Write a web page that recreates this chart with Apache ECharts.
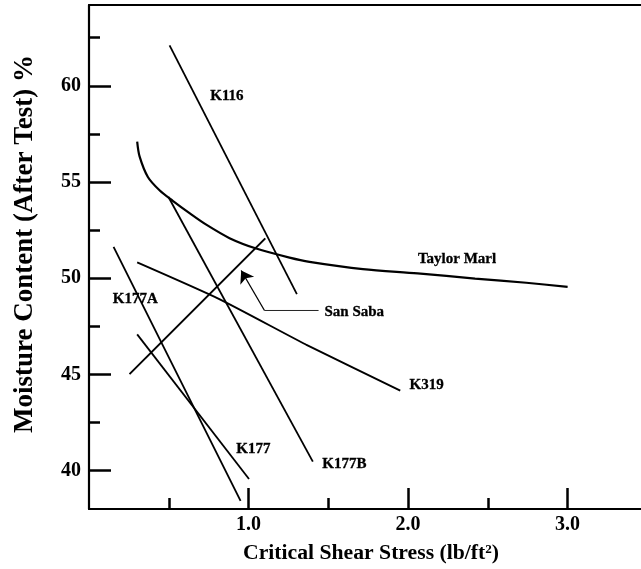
<!DOCTYPE html>
<html>
<head>
<meta charset="utf-8">
<script src="https://cdn.jsdelivr.net/npm/echarts@6/dist/echarts.min.js"></script>
<style>
  html, body { margin: 0; padding: 0; background: #fff; }
  #chart { width: 641px; height: 569px; }
</style>
</head>
<body>
<div id="chart"></div>
<script>
// Critical shear stress (lb/ft^2) vs. moisture content after test (%)
const k116X = [0.505, 1.303];
const k116Y = [62.1, 49.17];

const taylorMarlX = [0.302, 0.317, 0.369, 0.442, 0.525, 0.63, 0.735, 0.881, 1.048, 1.257, 1.382, 1.717, 2.06, 2.42, 2.741, 3.0];
const taylorMarlY = [57.1, 56.33, 55.26, 54.57, 54.02, 53.38, 52.78, 52.08, 51.54, 51.07, 50.85, 50.47, 50.25, 49.98, 49.76, 49.55];

const sanSabaX = [0.254, 1.105];
const sanSabaY = [45.01, 52.07];

const k319X = [0.302, 0.82, 1.36, 1.951];
const k319Y = [50.82, 48.9, 46.55, 44.15];

const k177bX = [0.498, 1.403];
const k177bY = [54.22, 40.46];

const k177aX = [0.154, 0.95];
const k177aY = [51.63, 38.42];

const k177X = [0.302, 1.003];
const k177Y = [47.08, 39.56];

// San Saba callout: leader line and arrow pointing at the curve
const leaderX = [1.439, 1.1];
const leaderY = [48.32, 48.32];
const arrowX = [1.1, 0.954];
const arrowY = [48.32, 50.4];

// Curve labels (left edge, vertical centre)
const labelNames = ['K116', 'Taylor Marl', 'San Saba', 'K319', 'K177A', 'K177', 'K177B'];
const labelX = [0.76, 2.062, 1.476, 2.009, 0.149, 0.923, 1.462];
const labelY = [59.44, 51.0, 48.22, 44.42, 48.92, 41.09, 40.31];

// Axis ticks
const xMajorTicks = [1, 2, 3];
const xMinorTicks = [0.5, 1.5, 2.5];
const yMajorTicks = [40, 45, 50, 55, 60];
const yMinorTicks = [42.5, 47.5, 52.5, 57.5, 62.5];

const FONT = '"Liberation Serif", "Times New Roman", serif';
const pairs = (xs, ys) => xs.map((x, i) => [x, ys[i]]);

const chart = echarts.init(document.getElementById('chart'), null, { renderer: 'canvas' });

const X_MIN = 0, X_MAX = 3.46, Y_MIN = 38, Y_MAX = 64.2;

function curve(name, xs, ys, width, smooth) {
  return {
    name, type: 'line', xAxisIndex: 0, yAxisIndex: 0,
    data: pairs(xs, ys), showSymbol: false, symbol: 'none',
    smooth: smooth || false, silent: true, animation: false,
    lineStyle: { color: '#000', width: width }
  };
}

const option = {
  animation: false,
  backgroundColor: '#fff',
  grid: { left: 89, right: 0, top: 5, bottom: 60, containLabel: false },
  xAxis: [
    {
      type: 'value', min: X_MIN, max: X_MAX, position: 'bottom',
      axisLine: { show: true, lineStyle: { color: '#000', width: 2.2 } },
      axisTick: { show: true, inside: true, length: 21, customValues: xMajorTicks, lineStyle: { color: '#000', width: 2.5 } },
      axisLabel: {
        show: true, customValues: xMajorTicks, margin: 6,
        formatter: v => v.toFixed(1),
        color: '#000', fontFamily: FONT, fontWeight: 'bold', fontSize: 20
      },
      splitLine: { show: false }
    },
    {
      type: 'value', min: X_MIN, max: X_MAX, position: 'bottom',
      axisLine: { show: false },
      axisTick: { show: true, inside: true, length: 11, customValues: xMinorTicks, lineStyle: { color: '#000', width: 2.5 } },
      axisLabel: { show: false },
      splitLine: { show: false }
    },
    {
      type: 'value', min: X_MIN, max: X_MAX, position: 'top',
      axisLine: { show: true, lineStyle: { color: '#000', width: 2.2 } },
      axisTick: { show: false }, axisLabel: { show: false }, splitLine: { show: false }
    }
  ],
  yAxis: [
    {
      type: 'value', min: Y_MIN, max: Y_MAX, position: 'left',
      axisLine: { show: true, lineStyle: { color: '#000', width: 2.2 } },
      axisTick: { show: true, inside: true, length: 22, customValues: yMajorTicks, lineStyle: { color: '#000', width: 2.5 } },
      axisLabel: {
        show: true, customValues: yMajorTicks, margin: 8,
        color: '#000', fontFamily: FONT, fontWeight: 'bold', fontSize: 20
      },
      splitLine: { show: false }
    },
    {
      type: 'value', min: Y_MIN, max: Y_MAX, position: 'left',
      axisLine: { show: false },
      axisTick: { show: true, inside: true, length: 11, customValues: yMinorTicks, lineStyle: { color: '#000', width: 2.5 } },
      axisLabel: { show: false },
      splitLine: { show: false }
    }
  ],
  graphic: [
    {
      type: 'text', x: 25, y: 244, rotation: Math.PI / 2,
      style: {
        text: 'Moisture Content (After Test) %',
        fill: '#000', font: 'bold 27px ' + FONT,
        textAlign: 'center', textVerticalAlign: 'middle'
      }
    },
    {
      type: 'text', x: 371, y: 553,
      style: {
        text: 'Critical Shear Stress (lb/ft²)',
        fill: '#000', font: 'bold 21.7px ' + FONT,
        textAlign: 'center', textVerticalAlign: 'middle'
      }
    }
  ],
  series: [
    curve('K116', k116X, k116Y, 1.8),
    curve('Taylor Marl', taylorMarlX, taylorMarlY, 2.2, 0.3),
    curve('San Saba', sanSabaX, sanSabaY, 2),
    curve('K319', k319X, k319Y, 1.9, 0.2),
    curve('K177B', k177bX, k177bY, 1.8),
    curve('K177A', k177aX, k177aY, 1.8),
    curve('K177', k177X, k177Y, 1.8),
    {
      name: 'leader', type: 'line', data: pairs(leaderX, leaderY),
      showSymbol: false, symbol: 'none', silent: true,
      lineStyle: { color: '#222', width: 1 }
    },
    {
      name: 'arrow', type: 'lines', coordinateSystem: 'cartesian2d',
      data: [{ coords: pairs(arrowX, arrowY) }],
      symbol: ['none', 'arrow'], symbolSize: [8, 12], silent: true,
      lineStyle: { color: '#000', width: 1.3, opacity: 1, curveness: 0 }
    },
    {
      name: 'labels', type: 'scatter', symbolSize: 0, silent: true,
      itemStyle: { opacity: 1 },
      data: labelNames.map((n, i) => ({ name: n, value: [labelX[i], labelY[i]] })),
      label: {
        show: true, position: 'right', distance: 0, opacity: 1,
        formatter: p => p.name,
        color: '#000', fontFamily: FONT, fontWeight: 'bold', fontSize: 15,
        textBorderColor: '#000', textBorderWidth: 0.3
      }
    }
  ]
};

chart.setOption(option);
</script>
</body>
</html>
